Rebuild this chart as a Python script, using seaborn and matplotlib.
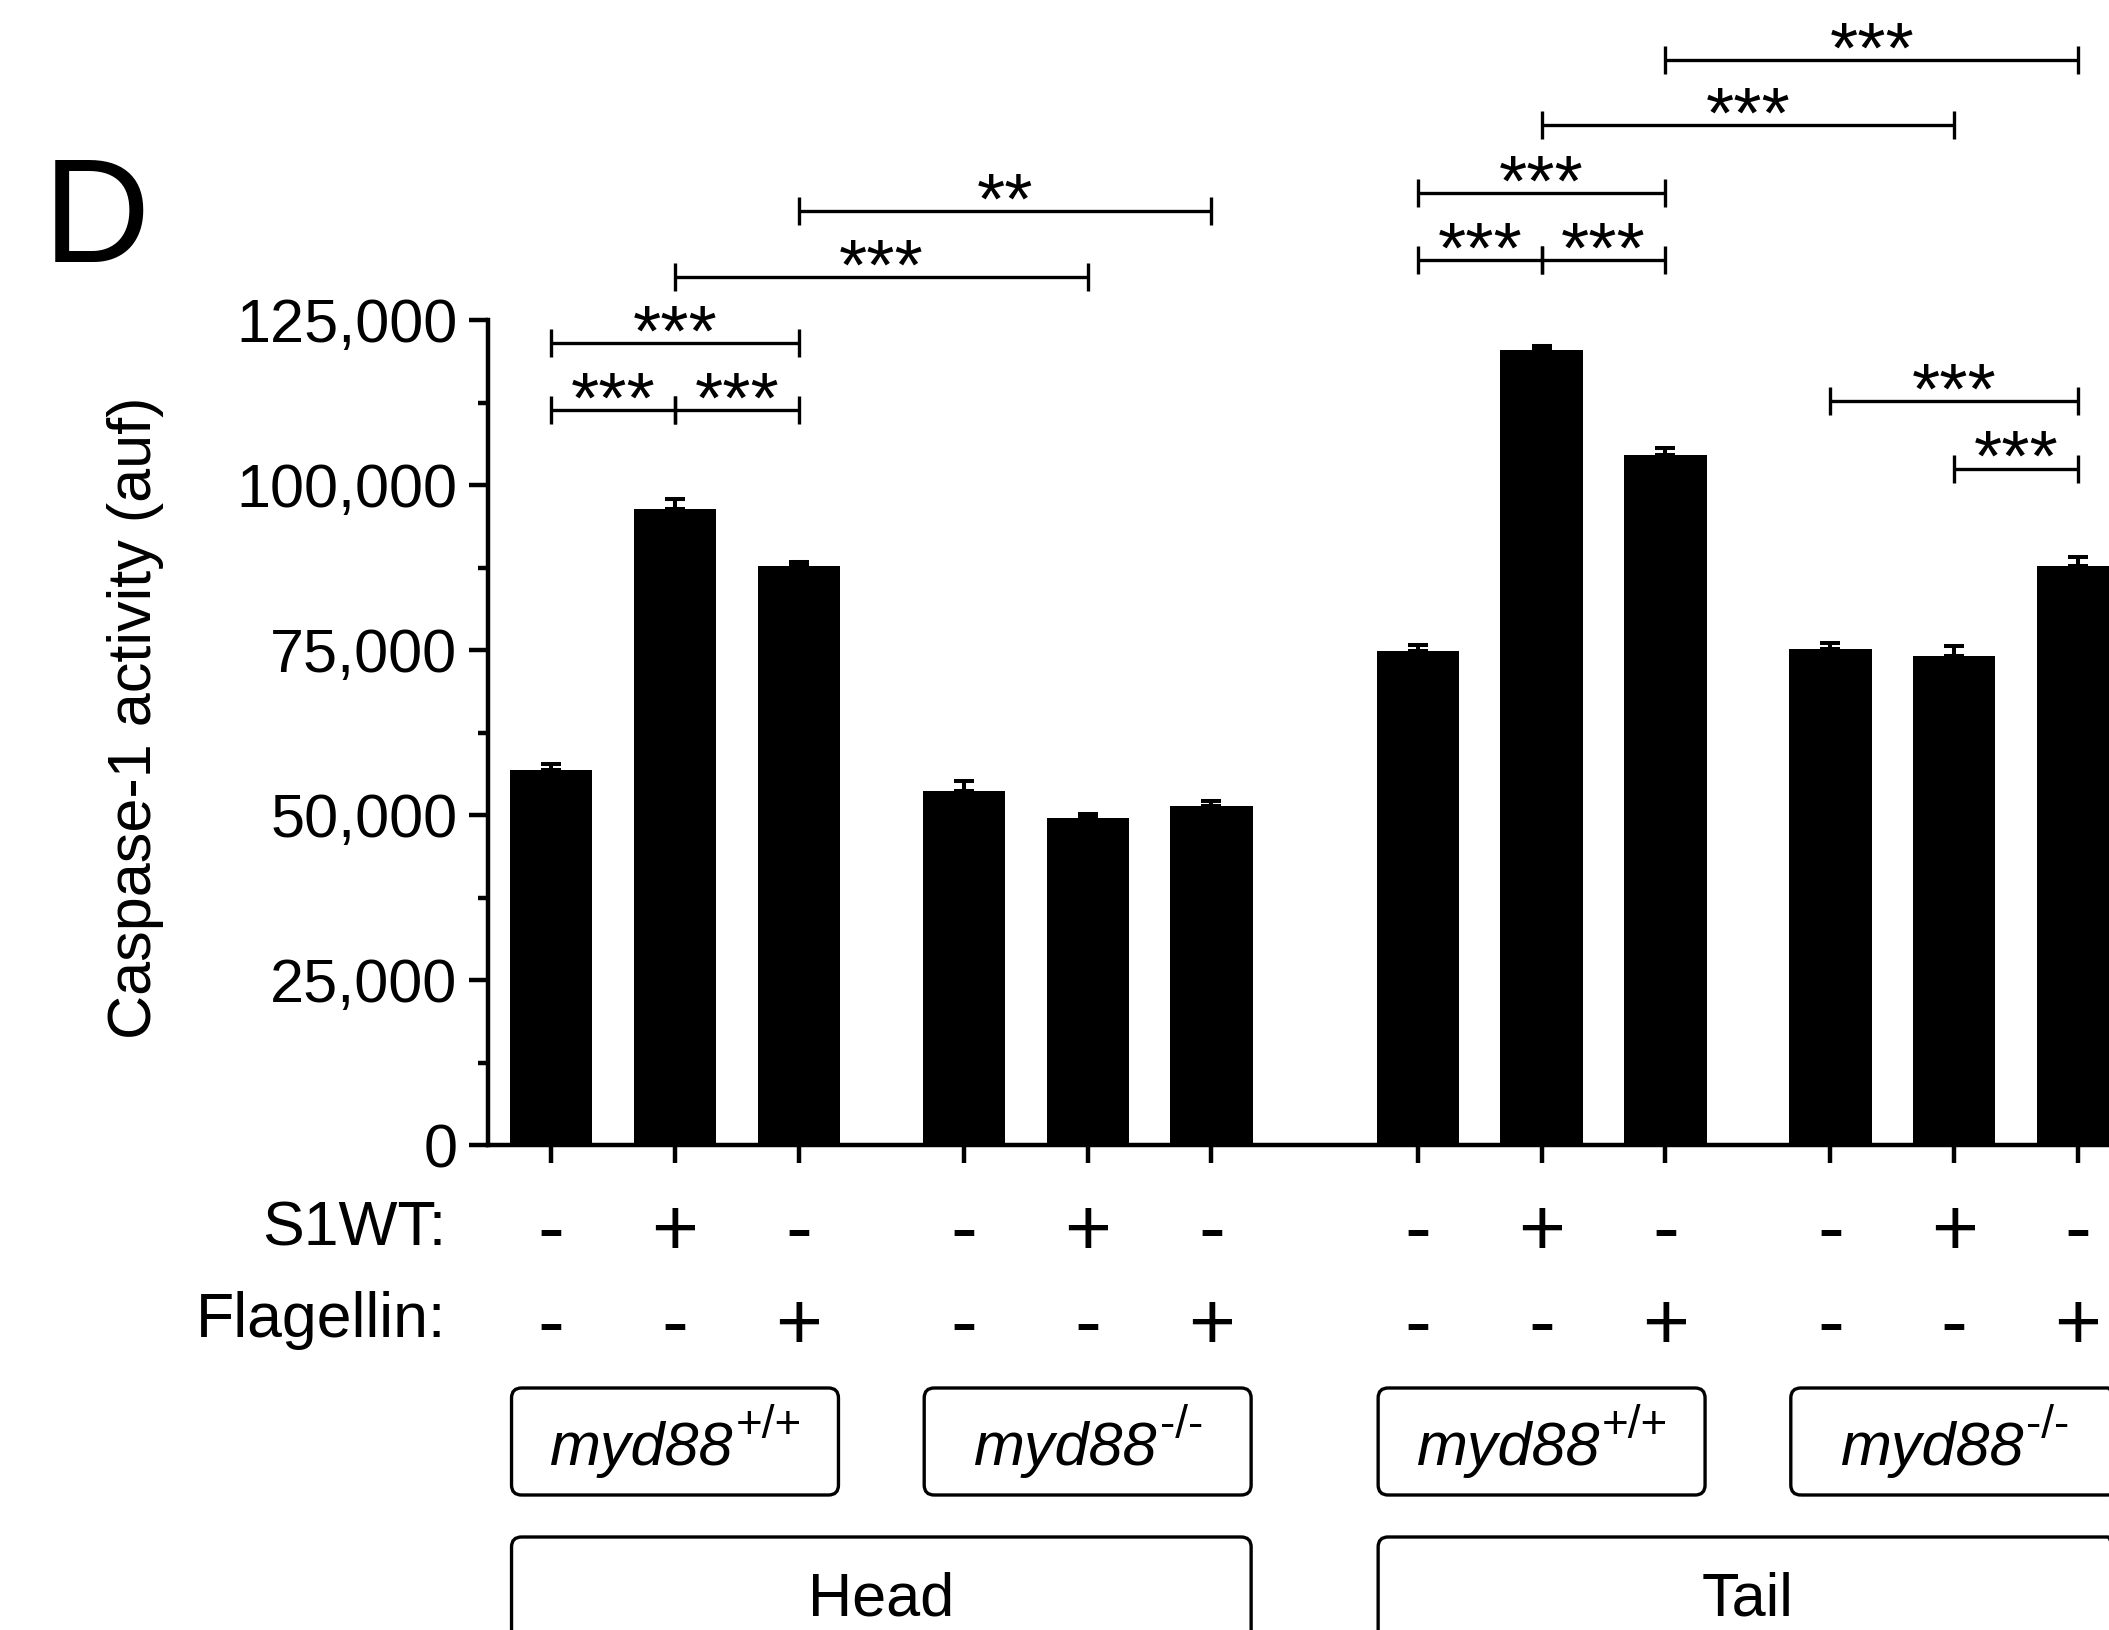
import numpy as np
import pandas as pd
import matplotlib
matplotlib.use("Agg")
import matplotlib.pyplot as plt
import seaborn as sns
from matplotlib import transforms
from matplotlib.patches import FancyBboxPatch
from matplotlib.ticker import FixedLocator, FuncFormatter

# ---- data -----------------------------------------------------------------
tissues = ["Head", "Tail"]
genotype_gene = ["myd88", "myd88", "myd88", "myd88"]
genotype_allele = ["+/+", "-/-", "+/+", "-/-"]
s1wt = ["-", "+", "-"] * 4
flagellin = ["-", "-", "+"] * 4

caspase_mean = [56800, 96400, 87700,
                53600, 49500, 51300,
                74800, 120400, 104600,
                75100, 74100, 87800]
caspase_sem = [900, 1500, 650,
               1500, 650, 750,
               950, 700, 1000,
               1000, 1570, 1260]

# significance brackets between bars (indices), their height and label
bracket_left = [0, 1, 0, 1, 2, 6, 7, 6, 7, 8, 9, 10]
bracket_right = [1, 2, 2, 4, 5, 7, 8, 8, 10, 11, 11, 11]
bracket_y = [111300, 111300, 121500, 131500, 141500,
             134100, 134100, 144300, 154500, 164400,
             112700, 102500]
bracket_label = ["***", "***", "***", "***", "**",
                 "***", "***", "***", "***", "***",
                 "***", "***"]

# ---- layout ---------------------------------------------------------------
n_bars = len(caspase_mean)
group_idx = np.arange(n_bars) // 3            # genotype group 0..3
tissue_idx = group_idx // 2                   # tissue 0..1
positions = np.arange(n_bars) + (group_idx + tissue_idx) / 3.0
bar_width = 0.665

W, H = 2109, 1630
sns.set_theme(style="ticks")
plt.rcParams.update({
    "font.family": ["Liberation Sans", "DejaVu Sans"],
    "axes.edgecolor": "black",
    "axes.linewidth": 3.2,
    "xtick.color": "black",
    "ytick.color": "black",
    "text.color": "black",
})

fig = plt.figure(figsize=(W / 100, H / 100), dpi=100)
y0_px, y125_px = 1145, 320                     # pixel rows of 0 and 125,000
ax = fig.add_axes([488 / W, 1 - y0_px / H, 1 - 488 / W, y0_px / H])

df = pd.DataFrame({"x": positions, "caspase": caspase_mean})
sns.barplot(data=df, x="x", y="caspase", native_scale=True, color="black",
            saturation=1, width=bar_width, errorbar=None, linewidth=0, ax=ax)

ax.errorbar(positions, caspase_mean,
            yerr=[np.zeros(n_bars), caspase_sem],
            fmt="none", ecolor="black", elinewidth=2.9,
            capsize=7.5, capthick=2.9, zorder=3)

ymax = 125000 * y0_px / (y0_px - y125_px)
unit_px = 123.8
ax.set_xlim(-0.5105, -0.5105 + (W - 488) / unit_px)
ax.set_ylim(0, ymax)

sns.despine(ax=ax)
ax.spines["left"].set_bounds(0, 125000)
ax.yaxis.set_major_locator(FixedLocator(np.arange(0, 125001, 25000)))
ax.yaxis.set_minor_locator(FixedLocator(np.arange(12500, 125000, 25000)))
ax.yaxis.set_major_formatter(FuncFormatter(lambda v, p: f"{int(v):,}"))
ax.tick_params(axis="y", which="major", length=14, width=3.2,
               labelsize=44, pad=8, direction="out")
ax.tick_params(axis="y", which="minor", length=7.5, width=3.2, direction="out")
ax.set_xticks(positions)
ax.set_xticklabels([])
ax.tick_params(axis="x", length=13, width=3.2, direction="out")
ax.set_xlabel("")
ax.set_ylabel("")

# significance brackets
for l, r, y, lab in zip(bracket_left, bracket_right, bracket_y, bracket_label):
    xl, xr = positions[l], positions[r]
    ax.plot([xl, xr], [y, y], color="black", lw=2.4, marker="|",
            markersize=20, mew=2.4, clip_on=False, solid_capstyle="butt")
    ax.annotate(lab, xy=((xl + xr) / 2, y), xytext=(0, -9),
                textcoords="offset points", ha="center", va="baseline",
                fontsize=52, annotation_clip=False)

# treatment rows under the axis
trans = transforms.blended_transform_factory(ax.transData, fig.transFigure)
fig.text(446 / W, 1 - 1245 / H, "S1WT:", ha="right", va="baseline", fontsize=45)
fig.text(446 / W, 1 - 1337 / H, "Flagellin:", ha="right", va="baseline", fontsize=45)
for x, s, f in zip(positions, s1wt, flagellin):
    ax.text(x, 1 - 1255.5 / H, s, transform=trans, ha="center",
            va="baseline", fontsize=58)
    ax.text(x, 1 - 1349 / H, f, transform=trans, ha="center",
            va="baseline", fontsize=58)


def px_x(x):
    return ax.transData.transform((x, 0))[0]


pix = transforms.IdentityTransform()


def rounded_box(x_left, x_right, top, bottom):
    box = FancyBboxPatch((x_left, H - bottom), x_right - x_left, bottom - top,
                         boxstyle="round,pad=0,rounding_size=10",
                         transform=pix, fill=False, ec="black", lw=2.4)
    fig.add_artist(box)


renderer = fig.canvas.get_renderer()

# genotype boxes with italic gene name and superscript allele
for g in range(4):
    xl = px_x(positions[3 * g] - bar_width / 2) + 1.5
    xr = px_x(positions[3 * g + 2] + bar_width / 2) - 1.5
    rounded_box(xl, xr, 1388, 1495)
    gene = fig.text(0, 0, genotype_gene[g], transform=pix, style="italic",
                    ha="left", va="baseline", fontsize=44)
    allele = fig.text(0, 0, genotype_allele[g], transform=pix,
                      ha="left", va="baseline", fontsize=33)
    wg = gene.get_window_extent(renderer).width
    wa = allele.get_window_extent(renderer).width
    left = px_x(positions[3 * g + 1]) - (wg + wa) / 2
    gene.set_position((left, H - 1465))
    allele.set_position((left + wg + 2, H - 1465 + 27))

# tissue boxes
for t, name in enumerate(tissues):
    xl_d = positions[6 * t] - bar_width / 2
    xr_d = positions[6 * t + 5] + bar_width / 2
    rounded_box(px_x(xl_d) + 1.5, px_x(xr_d) - 1.5, 1537, 1700)
    ax.text((xl_d + xr_d) / 2, 1 - 1615 / H, name, transform=trans,
            ha="center", va="baseline", fontsize=44)

fig.text(136 / W, 1 - 718 / H, "Caspase-1 activity (auf)", rotation=90,
         ha="center", va="center", fontsize=44)
fig.text(43 / W, 1 - 262.5 / H, "D", ha="left", va="baseline", fontsize=107)

fig.savefig("out.png", dpi=100)
